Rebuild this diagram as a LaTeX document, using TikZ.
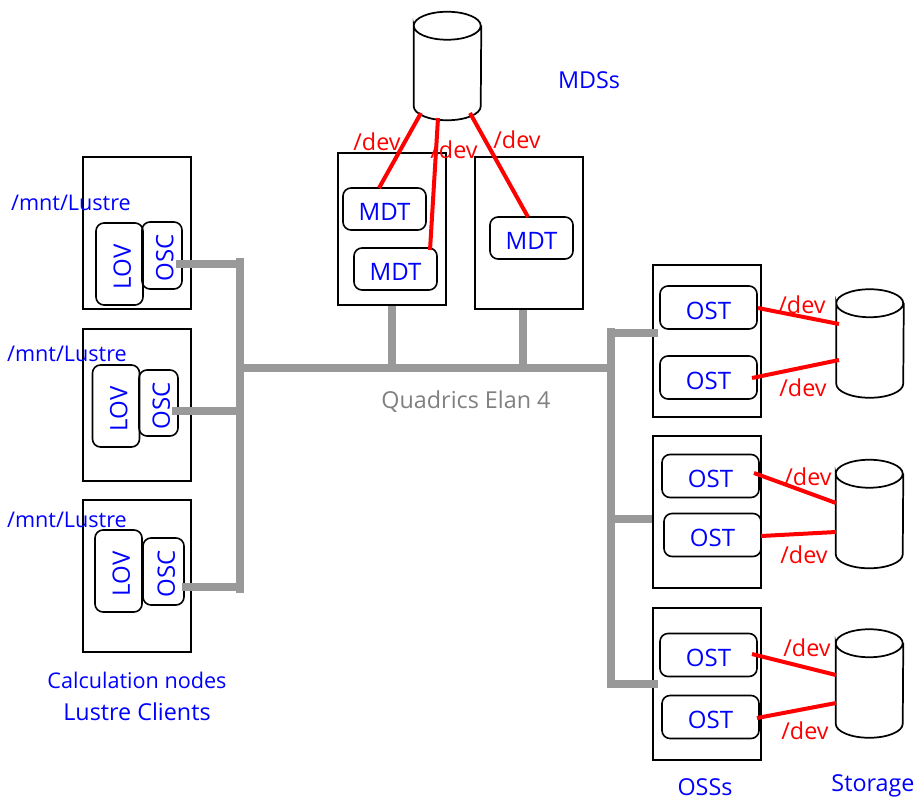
\documentclass[tikz,border=0pt]{standalone}
\usepackage{fontspec}
\setmainfont{Open Sans}
\usetikzlibrary{calc}
\definecolor{netgray}{RGB}{153,153,153}
\definecolor{labelgray}{RGB}{128,128,128}
\definecolor{labelblue}{RGB}{0,0,255}
\definecolor{devred}{RGB}{255,0,0}
\newcommand{\pxu}{0.75pt}
\newcommand{\hlab}[1]{\raisebox{-2.5pt}[\dimexpr\height+2.5pt][\dimexpr\depth+2.5pt]{#1}}
\newcommand{\vlab}[1]{\rotatebox{90}{\raisebox{-2pt}[\dimexpr\height+2pt][\dimexpr\depth+2pt]{#1}\hspace{4pt}}}
\newcommand{\diskbody}[1]{%
  \draw[diskline] ($(#1.north west)+(0,14)$) arc[start angle=180,end angle=0,x radius=33.5*\pxu,y radius=14*\pxu]
    arc[start angle=0,end angle=-180,x radius=33.5*\pxu,y radius=14*\pxu]
    -- ($(#1.south west)+(0,-14)$) arc[start angle=180,end angle=360,x radius=33.5*\pxu,y radius=14*\pxu]
    -- ($(#1.north east)+(0,14)$);}
\tikzset{
  x=0.75pt,y=-0.75pt,
  server/.style={draw=black,line width=1.5pt,minimum width=108*\pxu,minimum height=152*\pxu,inner sep=0pt},
  unit/.style={draw=black,line width=1.2pt,rounded corners=6pt,inner sep=0pt,text=labelblue,font=\fontsize{18}{20}\selectfont},
  disk/.style={minimum width=67*\pxu,minimum height=108*\pxu,inner sep=0pt},
  diskline/.style={draw=black,line width=1.3pt},
  net/.style={draw=netgray,line width=5.5pt},
  dev/.style={draw=devred,line width=3pt},
  lbl/.style={text=labelblue,font=\fontsize{17.5}{19}\selectfont,inner sep=0pt},
  lblsmall/.style={lbl,font=\fontsize{16.2}{18}\selectfont},
  devlbl/.style={text=devred,font=\fontsize{17.5}{19}\selectfont,inner sep=0pt},
}
\begin{document}
\begin{tikzpicture}
\useasboundingbox (0,0) rectangle (917,800);
% servers
\node[server] (c1) at (137,233) {};
\node[server] (c2) at (137,405) {};
\node[server] (c3) at (137,576) {};
\node[server] (m1) at (392,229) {};
\node[server] (m2) at (529,233) {};
\node[server] (s1) at (707,341) {};
\node[server] (s2) at (707,512) {};
\node[server] (s3) at (707,684) {};
% client units
\node[unit,minimum width=47*\pxu,minimum height=82*\pxu] (lov1) at (119.5,264) {\vlab{LOV}};
\node[unit,minimum width=40*\pxu,minimum height=67*\pxu] (osc1) at (162,255.5) {\vlab{OSC}};
\node[unit,minimum width=47*\pxu,minimum height=82*\pxu] (lov2) at (116,406) {\vlab{LOV}};
\node[unit,minimum width=39*\pxu,minimum height=66*\pxu] (osc2) at (158.5,403) {\vlab{OSC}};
\node[unit,minimum width=47*\pxu,minimum height=82*\pxu] (lov3) at (118.5,571) {\vlab{LOV}};
\node[unit,minimum width=41*\pxu,minimum height=67*\pxu] (osc3) at (163.5,571.5) {\vlab{OSC}};
% MDTs
\node[unit,minimum width=83*\pxu,minimum height=42*\pxu] (mdt1) at (384.5,209) {\hlab{MDT}};
\node[unit,minimum width=83*\pxu,minimum height=42*\pxu] (mdt2) at (395.5,269) {\hlab{MDT}};
\node[unit,minimum width=83*\pxu,minimum height=42*\pxu] (mdt3) at (531.5,238) {\hlab{MDT}};
% OSTs
\node[unit,minimum width=97*\pxu,minimum height=43*\pxu] (ost1) at (708.5,307.5) {\hlab{OST}};
\node[unit,minimum width=97*\pxu,minimum height=43*\pxu] (ost2) at (708.5,377.5) {\hlab{OST}};
\node[unit,minimum width=97*\pxu,minimum height=43*\pxu] (ost3) at (710.5,476) {\hlab{OST}};
\node[unit,minimum width=97*\pxu,minimum height=43*\pxu] (ost4) at (712.5,535) {\hlab{OST}};
\node[unit,minimum width=97*\pxu,minimum height=43*\pxu] (ost5) at (708.5,655) {\hlab{OST}};
\node[unit,minimum width=97*\pxu,minimum height=43*\pxu] (ost6) at (710.5,717) {\hlab{OST}};
% disks
\node[disk] (d0) at (447.5,66) {};
\node[disk] (d1) at (870,343.5) {};
\node[disk] (d2) at (869.5,514) {};
\node[disk] (d3) at (869.5,683.5) {};
\diskbody{d0}
\diskbody{d1}
\diskbody{d2}
\diskbody{d3}
% network
\coordinate (lt) at (240,258);
\coordinate (lb) at (240,593);
\coordinate (l1) at (243,264);
\coordinate (l2) at (243,411);
\coordinate (l3) at (243,587);
\coordinate (bw) at (240,368);
\coordinate (be) at (611,368);
\coordinate (rt) at (611,328);
\coordinate (rb) at (611,688);
\coordinate (r1) at (608,333);
\coordinate (r2) at (608,519);
\coordinate (r3) at (608,684);
\coordinate (j1) at (392,368);
\coordinate (j2) at (523,368);
\draw[net] (lt) -- (lb);
\draw[net] (bw) -- (be);
\draw[net] (rt) -- (rb);
\draw[net] ($(osc1)+(14,8.5)$) -- (l1);
\draw[net] ($(osc2)+(13.5,8)$) -- (l2);
\draw[net] ($(osc3)+(18.5,15.5)$) -- (l3);
\draw[net] (m1.south -| j1) -- (j1);
\draw[net] (m2.south -| j2) -- (j2);
\draw[net] (r1) -- ($(s1)+(-49,-8)$);
\draw[net] (r2) -- (s2.west |- r2);
\draw[net] (r3) -- ($(s3)+(-49,0)$);
% /dev links
\draw[dev] ($(d0)+(-26.5,47)$) -- ($(mdt1)+(-5.5,-21)$);
\draw[dev] ($(d0)+(-9.5,52)$) -- ($(mdt2)+(34.5,-19)$);
\draw[dev] ($(d0)+(22.5,47)$) -- ($(mdt3)+(-3.5,-21)$);
\draw[dev] ($(ost1)+(49.5,0.5)$) -- ($(d1)+(-31,-19.5)$);
\draw[dev] ($(ost2)+(43.5,0.5)$) -- ($(d1)+(-31,16.5)$);
\draw[dev] ($(ost3)+(43.5,-3)$) -- ($(d2)+(-33.5,-11)$);
\draw[dev] ($(ost4)+(48.5,1)$) -- ($(d2)+(-33.5,18)$);
\draw[dev] ($(ost5)+(43.5,-1)$) -- ($(d3)+(-33.5,-8.5)$);
\draw[dev] ($(ost6)+(46.5,1)$) -- ($(d3)+(-33.5,19.5)$);
% labels
\node[lbl] (t1) at (589,80) {MDSs};
\node[lblsmall] (t2) at (71,203) {/mnt/Lustre};
\node[lblsmall] (t3) at (67,354) {/mnt/Lustre};
\node[lblsmall] (t4) at (67,520) {/mnt/Lustre};
\node[lblsmall] (t5) at (137,680) {Calculation nodes};
\node[lbl] (t6) at (137,712) {Lustre Clients};
\node[lbl] (t7) at (705,787) {OSSs};
\node[lbl] (t8) at (873,786) {Storage};
\node[lbl,text=labelgray] (t9) at (466,402) {Quadrics Elan 4};
\node[devlbl] (e1) at (377,142) {/dev};
\node[devlbl] (e2) at (454,150) {/dev};
\node[devlbl] (e3) at (517,140) {/dev};
\node[devlbl] (e4) at (802,305) {/dev};
\node[devlbl] (e5) at (803,388) {/dev};
\node[devlbl] (e6) at (808,477) {/dev};
\node[devlbl] (e7) at (804,555) {/dev};
\node[devlbl] (e8) at (807,648) {/dev};
\node[devlbl] (e9) at (805,731) {/dev};
\end{tikzpicture}
\end{document}
